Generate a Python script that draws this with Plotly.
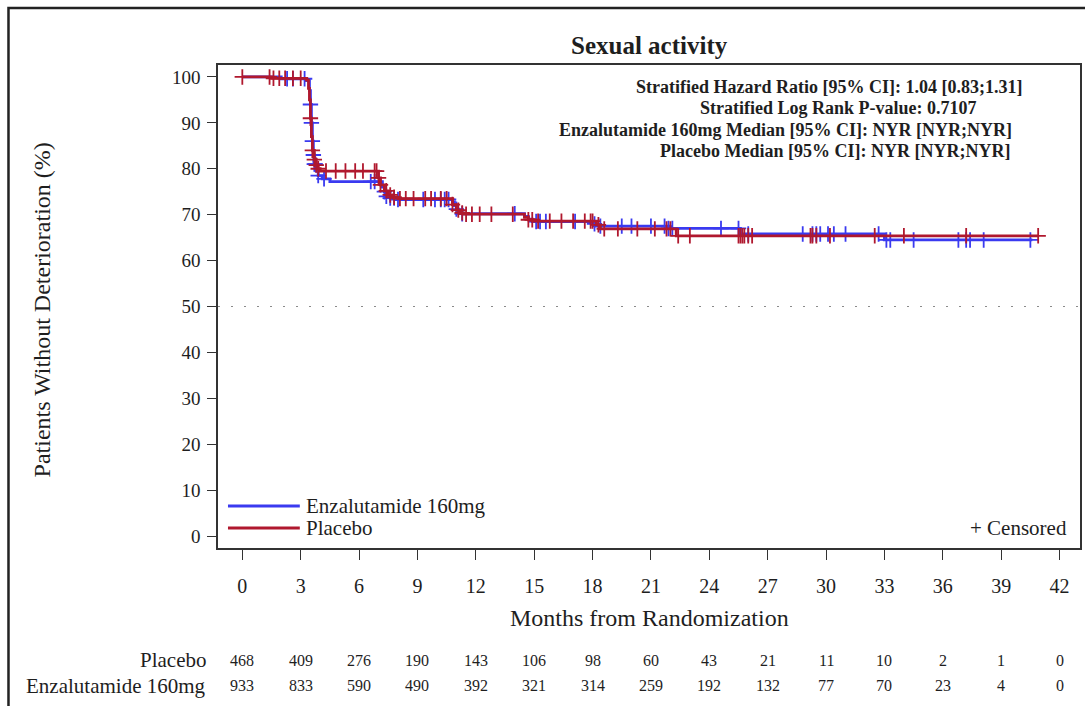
import numpy as np
import plotly.graph_objects as go

# Kaplan-Meier step estimates (months, % without deterioration)
enz_t = [0, 2.0, 3.3, 3.45, 3.5, 3.55, 3.6, 3.65, 3.7, 3.8, 3.9, 4.1, 4.5,
         7.2, 7.3, 7.4, 7.6, 7.9, 10.8, 10.9, 11.0, 11.1, 11.3,
         14.5, 14.7, 14.9, 18.0, 18.2, 21.9, 25.6, 33.0]
enz_s = [100, 99.6, 99.2, 97, 94, 90, 86, 83, 81, 79.5, 78.5, 77.8, 77.2,
         76.0, 75.0, 74.0, 73.6, 73.3, 72.8, 72.0, 71.2, 70.6, 70.2,
         69.6, 69.0, 68.5, 68.0, 67.5, 67.0, 65.8, 64.5]
enz_end = 40.6

pla_t = [0, 1.5, 3.3, 3.4, 3.45, 3.5, 3.55, 3.6, 3.7, 3.8, 3.9, 4.0,
         7.0, 7.1, 7.3, 7.5, 7.7, 8.0, 10.8, 11.0, 11.2, 11.4,
         14.5, 14.7, 15.0, 18.2, 18.4, 22.3]
pla_s = [100, 99.7, 99.3, 97.5, 95, 91, 87, 84, 82, 80.8, 80.0, 79.5,
         78.0, 76.5, 75.2, 74.3, 73.8, 73.5, 72.2, 71.0, 70.4, 70.1,
         69.4, 68.9, 68.6, 67.8, 66.9, 65.4]
pla_end = 40.9

# censoring times (months)
enz_cens = [2.3, 2.6, 3.2, 3.5, 3.55, 3.6, 3.65, 3.7, 3.75, 3.9, 4.2, 6.6, 6.8,
            7.3, 7.4, 7.6, 7.8, 8.0, 9.3, 9.9, 10.2, 10.4, 10.6, 11.0, 11.3,
            14.0, 15.1, 15.3, 15.6, 17.1, 18.1, 18.4, 19.5, 20.0, 21.0, 21.7,
            21.9, 22.1, 24.6, 25.5, 26.0, 28.8, 29.3, 29.5, 29.7, 30.1, 30.4,
            31.0, 32.7, 33.1, 33.3, 34.5, 36.8, 37.2, 37.4, 38.1, 40.5]
pla_cens = [0.0, 1.4, 1.6, 1.9, 2.2, 2.6, 3.0, 3.5, 3.6, 3.7, 3.8, 3.9,
            4.3, 4.8, 5.3, 5.8, 6.2, 6.8, 6.9, 7.0, 7.1, 7.4, 7.6, 7.8, 8.1,
            8.4, 8.8, 9.4, 9.7, 10.2, 10.5, 10.8, 11.1, 11.3, 11.5, 11.8,
            12.2, 12.8, 13.9, 14.7, 14.9, 15.2, 15.8, 16.4, 17.0, 17.6, 17.9,
            18.0, 18.3, 18.6, 19.3, 20.3, 21.2, 21.8, 22.0, 22.4, 23.0, 25.5,
            25.6, 25.7, 25.8, 26.0, 26.2, 29.2, 29.3, 29.5, 30.2, 32.5, 34.0,
            37.2, 40.9]

# numbers at risk
risk_months = [0, 3, 6, 9, 12, 15, 18, 21, 24, 27, 30, 33, 36, 39, 42]
pla_risk = [468, 409, 276, 190, 143, 106, 98, 60, 43, 21, 11, 10, 2, 1, 0]
enz_risk = [933, 833, 590, 490, 392, 321, 314, 259, 192, 132, 77, 70, 23, 4, 0]

title_text = "Sexual activity"
stats_lines = [
    "Stratified Hazard Ratio [95% CI]: 1.04 [0.83;1.31]",
    "Stratified Log Rank P-value: 0.7107",
    "Enzalutamide 160mg Median [95% CI]: NYR [NYR;NYR]",
    "Placebo Median [95% CI]: NYR [NYR;NYR]",
]

BLUE = "#3a3af0"
RED = "#b0182e"
SERIF = "Liberation Serif, Times New Roman, serif"
INK = "#1e1e1e"

W, H = 1085, 706
L, R, T, B = 218, 1082, 65, 548   # plot area in pixels


def px_x(px):
    return (px - L) / (R - L)


def px_y(py):
    return (B - py) / (B - T)


def step_value(ts, ss, c):
    idx = np.searchsorted(np.asarray(ts), c, side="right") - 1
    return ss[max(idx, 0)]


def label(text, x, y, size, xanchor="center", xref="paper", bold=False, angle=0):
    return dict(text="<b>%s</b>" % text if bold else text, x=x, y=y,
                xref=xref, yref="paper", xanchor=xanchor, yanchor="middle",
                showarrow=False, textangle=angle,
                font=dict(size=size, family=SERIF, color=INK))


fig = go.Figure()

for ts, ss, end, cens, col in [
    (enz_t, enz_s, enz_end, enz_cens, BLUE),
    (pla_t, pla_s, pla_end, pla_cens, RED),
]:
    fig.add_trace(go.Scatter(
        x=list(ts) + [end], y=list(ss) + [ss[-1]], mode="lines",
        line=dict(color=col, width=2.8, shape="hv"), showlegend=False,
        hoverinfo="skip"))
    fig.add_trace(go.Scatter(
        x=cens, y=[step_value(ts, ss, c) for c in cens], mode="markers",
        marker=dict(symbol="cross-thin", size=11, line=dict(color=col, width=1.8)),
        showlegend=False, hoverinfo="skip"))

shapes = []
# reference line at 50%
shapes.append(dict(type="line", xref="paper", yref="y", x0=0, x1=1, y0=50, y1=50,
                   line=dict(color="#8a8a8a", width=1.2, dash="2px,11px"), layer="below"))

ann = [label(title_text, 0.5, px_y(45), 25, bold=True)]

stat_cx = [830, 840, 787, 836]
stat_cy = [87, 108, 130, 151]
for txt, cx, cy in zip(stats_lines, stat_cx, stat_cy):
    ann.append(label(txt, px_x(cx), px_y(cy), 18, bold=True))

# legend drawn by hand
for name, col, py in [("Enzalutamide 160mg", BLUE, 506), ("Placebo", RED, 528)]:
    shapes.append(dict(type="line", xref="paper", yref="paper",
                       x0=px_x(228), x1=px_x(300), y0=px_y(py), y1=px_y(py),
                       line=dict(color=col, width=3)))
    ann.append(label(name, px_x(304), px_y(py), 21, xanchor="left"))
ann.append(label("+ Censored", px_x(1071), px_y(528), 21, xanchor="right"))

# axis titles
ann.append(label("Months from Randomization", 0.5, px_y(618), 24))
ann.append(label("Patients Without Deterioration (%)", px_x(42), px_y(310), 24, angle=-90))

# numbers-at-risk table
for name, vals, py in [("Placebo", pla_risk, 660), ("Enzalutamide 160mg", enz_risk, 686)]:
    ann.append(label(name, px_x(208), px_y(py), 21, xanchor="right"))
    for m, v in zip(risk_months, vals):
        ann.append(label(str(v), m, px_y(py), 16, xref="x"))

# outer frame
shapes.append(dict(type="rect", xref="paper", yref="paper",
                   x0=px_x(8), y0=px_y(800), x1=px_x(1200), y1=px_y(8),
                   line=dict(color="#222", width=2.5)))

fig.update_layout(
    width=W, height=H,
    margin=dict(l=L, r=W - R, t=T, b=H - B),
    paper_bgcolor="white", plot_bgcolor="white",
    annotations=ann, shapes=shapes,
    font=dict(family=SERIF, color=INK),
)
fig.update_xaxes(range=[-1.25, 43.05], tickvals=risk_months, ticks="outside",
                 ticklen=10, tickwidth=1.3, tickcolor="#333",
                 showline=True, linecolor="#333", linewidth=1.6, mirror=True,
                 showgrid=False, zeroline=False, tickfont=dict(size=20, family=SERIF),
                 ticklabelstandoff=9)
fig.update_yaxes(range=[-2.6, 102.6], tickvals=list(range(0, 101, 10)), ticks="outside",
                 ticklen=9, tickwidth=1.3, tickcolor="#333",
                 showline=True, linecolor="#333", linewidth=1.6, mirror=True,
                 showgrid=False, zeroline=False, tickfont=dict(size=19, family=SERIF),
                 ticklabelstandoff=3)

fig.write_html("out.html")
